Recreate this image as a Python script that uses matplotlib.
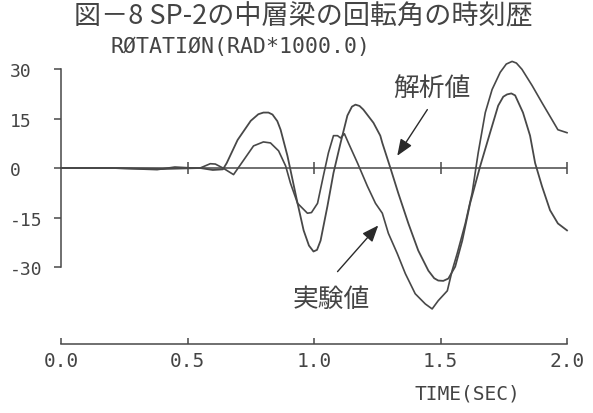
import matplotlib
matplotlib.use('Agg')
from matplotlib import pyplot as plt

# (time in s, rotation in rad*1000)
time_analysis = [0.0, 0.2, 0.4, 0.55, 0.60, 0.64, 0.655, 0.698, 0.75, 0.78, 0.80, 0.82,
                 0.836, 0.855, 0.868, 0.895, 0.907, 0.935, 0.959, 0.98, 0.998, 1.012,
                 1.026, 1.053, 1.077, 1.105, 1.132, 1.15, 1.164, 1.18, 1.195, 1.235,
                 1.262, 1.27, 1.302, 1.333, 1.373, 1.412, 1.452, 1.475, 1.491, 1.511,
                 1.531, 1.558, 1.586, 1.617, 1.657, 1.696, 1.728, 1.748, 1.763, 1.78,
                 1.795, 1.826, 1.854, 1.874, 1.901, 1.933, 1.964, 2.0]
rot_analysis = [0, 0, -0.3, 0, -0.6, -0.4, 1.5, 8.5, 14.3, 16.3, 16.8, 16.8,
                16.2, 14.2, 11.6, 3.7, -0.6, -10.7, -18.9, -23.5, -25.3, -24.8,
                -22, -11.6, -1.5, 7.6, 15.9, 18.6, 19.2, 18.8, 17.7, 13.7,
                9.8, 7.6, 0, -7.6, -16.8, -25, -31.1, -33.4, -34.1, -34.2,
                -33.5, -29.9, -22, -10.7, 0.6, 10.7, 18.9, 21.6, 22.3, 22.6,
                22, 16.8, 9.8, 1.5, -5.5, -12.8, -16.8, -18.9]

time_experiment = [0.0, 0.2, 0.38, 0.45, 0.52, 0.55, 0.59, 0.61, 0.64, 0.682, 0.722,
                   0.761, 0.80, 0.828, 0.86, 0.888, 0.907, 0.935, 0.974, 0.99, 1.014,
                   1.037, 1.057, 1.077, 1.093, 1.105, 1.12, 1.136, 1.172, 1.211, 1.243,
                   1.27, 1.294, 1.329, 1.361, 1.40, 1.44, 1.467, 1.491, 1.527, 1.546,
                   1.566, 1.598, 1.625, 1.649, 1.677, 1.704, 1.736, 1.76, 1.783, 1.80,
                   1.822, 1.862, 1.901, 1.941, 1.964, 2.0]
rot_experiment = [0, 0, -0.5, 0.3, 0, 0, 1.3, 1.2, 0, -2.0, 2.4,
                  6.7, 7.9, 7.6, 5.2, 0.6, -4.6, -10.7, -13.7, -13.5, -10.7,
                  -2.4, 4.6, 9.8, 9.8, 9.1, 10.4, 7.6, 1.5, -5.5, -10.7,
                  -13.7, -19.8, -25.9, -32, -38.1, -41.2, -42.7, -40.2, -37.2, -31.1,
                  -25.9, -16.8, -7.6, 4.6, 16.8, 23.8, 29, 31.5, 32.3, 31.8,
                  29.9, 25, 19.8, 14.6, 11.6, 10.7]

y_ticks = [30, 15, 0, -15, -30]
y_labels = ['30', '15', '0', '-15', '-30']
x_ticks = [0.0, 0.5, 1.0, 1.5, 2.0]
x_labels = ['0.0', '0.5', '1.0', '1.5', '2.0']

title = '図－8 SP-2の中層梁の回転角の時刻歴'
y_name = 'RØTATIØN(RAD*1000.0)'
x_name = 'TIME(SEC)'
label_analysis = '解析値'
label_experiment = '実験値'

ink = '#484848'
txt = '#444444'
jp = ['Noto Sans CJK JP', 'DejaVu Sans']
mono = ['DejaVu Sans Mono']

fig = plt.figure(figsize=(5.93, 4.14), dpi=100)

# upper plot: 0..2 s over x 61..567 px, 0 at y=169 px, 3.3 px per unit
ax = fig.add_axes([61 / 593, 0.2251, 506 / 593, 0.6616])
ax.set_xlim(0, 2)
ax.set_ylim(-46, 37)
for s in ['top', 'right', 'bottom']:
    ax.spines[s].set_visible(False)
ax.spines['left'].set_bounds(-30, 30)
ax.spines['left'].set_color(ink)
ax.spines['left'].set_linewidth(1.1)
ax.set_xticks([])
ax.set_yticks(y_ticks)
ax.set_yticklabels(y_labels, family=mono, fontsize=13, color=txt)
ax.tick_params(axis='y', direction='out', length=5, width=1.1, color=ink, pad=32)
for lab in ax.get_yticklabels():
    lab.set_horizontalalignment('left')

ax.axhline(0, color=ink, lw=1.1)
ax.plot(x_ticks[1:], [0] * len(x_ticks[1:]), ls='none', marker='|', ms=8,
        mew=1.1, color=ink)

ax.plot(time_analysis, rot_analysis, color=ink, lw=1.3, clip_on=False)
ax.plot(time_experiment, rot_experiment, color=ink, lw=1.2, clip_on=False)

arrow = dict(arrowstyle='-|>,head_length=1.0,head_width=0.4', color='#2a2a2a',
             lw=1.0, mutation_scale=10, shrinkA=0, shrinkB=0)
ax.annotate('', xy=(1.329, 3.7), xytext=(1.448, 17.7), arrowprops=arrow)
ax.annotate('', xy=(1.254, -17.4), xytext=(1.093, -31.4), arrowprops=arrow)
ax.text(1.467, 24.4, label_analysis, family=jp, fontsize=18.5, color=txt,
        ha='center', va='center')
ax.text(1.069, -39.6, label_experiment, family=jp, fontsize=18.5, color=txt,
        ha='center', va='center')

# separate time axis underneath
ax2 = fig.add_axes([61 / 593, 69 / 414, 506 / 593, 0.001])
ax2.set_xlim(0, 2)
for s in ['top', 'right', 'left']:
    ax2.spines[s].set_visible(False)
ax2.spines['bottom'].set_color(ink)
ax2.spines['bottom'].set_linewidth(1.1)
ax2.set_yticks([])
ax2.set_xticks(x_ticks)
ax2.set_xticklabels(x_labels, family=mono, fontsize=14, color=txt)
ax2.tick_params(axis='x', direction='in', length=4, width=1.1, color=ink, pad=5)

fig.text(303 / 593, 1 - 17 / 414, title, family=jp, fontsize=19.5, color=txt,
         ha='center', va='center')
fig.text(110 / 593, 1 - 47 / 414, y_name, family=mono, fontsize=15.5, color=txt,
         ha='left', va='center')
fig.text(467 / 593, 1 - 394 / 414, x_name, family=mono, fontsize=14, color=txt,
         ha='center', va='center')

fig.savefig('out.png', dpi=100)
